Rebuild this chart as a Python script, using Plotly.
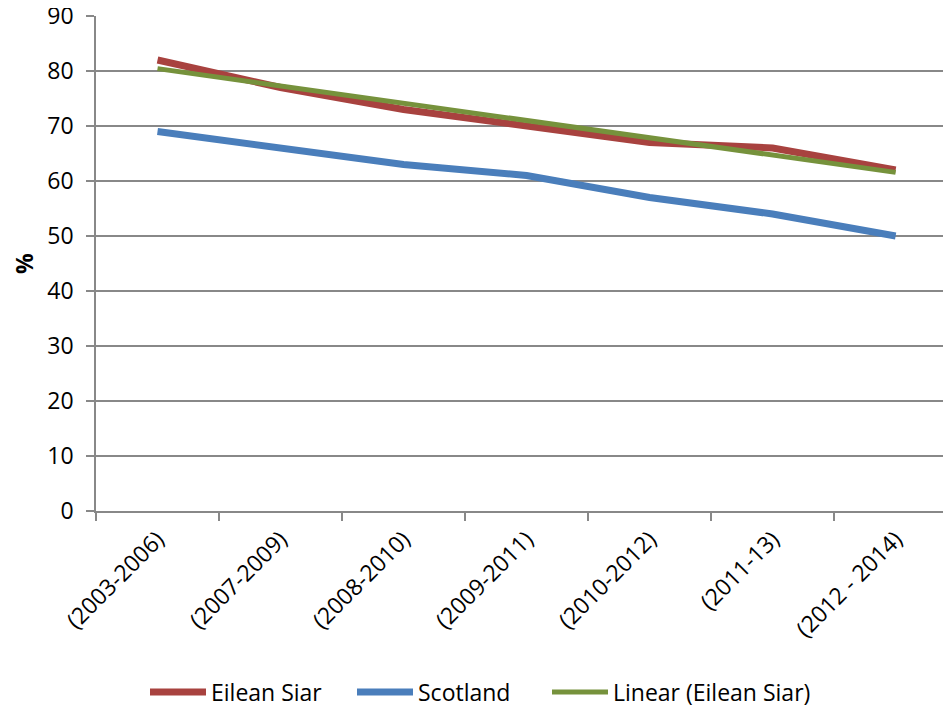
import numpy as np
import plotly.graph_objects as go

periods = ["(2003-2006)", "(2007-2009)", "(2008-2010)", "(2009-2011)",
           "(2010-2012)", "(2011-13)", "(2012 - 2014)"]
eilean_siar = [82, 77, 73, 70, 67, 66, 62]
scotland = [69, 66, 63, 61, 57, 54, 50]
series_names = ["Eilean Siar", "Scotland", "Linear (Eilean Siar)"]
series_colors = ["#A8423F", "#4A7EBB", "#76923C"]

# Linear trendline of Eilean Siar (least squares, as in the original chart)
xi = np.arange(len(eilean_siar))
slope, intercept = np.polyfit(xi, eilean_siar, 1)
trend = list(intercept + slope * xi)

FONT = "Open Sans"
FS = 23
OFF = 8                     # page body margin
W, H = 951 - OFF, 710 - OFF  # figure size
L, R, T, B = 96 - OFF, 951 - OFF, 16 - OFF, 511 - OFF  # plot area in figure px

fig = go.Figure()
fig.add_trace(go.Scatter(x=periods, y=eilean_siar, mode="lines", name=series_names[0],
                         line=dict(color=series_colors[0], width=7), showlegend=False))
fig.add_trace(go.Scatter(x=periods, y=scotland, mode="lines", name=series_names[1],
                         line=dict(color=series_colors[1], width=7), showlegend=False))
fig.add_trace(go.Scatter(x=periods, y=trend, mode="lines", name=series_names[2],
                         line=dict(color=series_colors[2], width=5), showlegend=False))

# manual legend (long line keys as in the original); page pixel -> paper coords
def px_x(p):
    return (p - OFF - L) / (R - L)
def px_y(p):
    return (B - (p - OFF)) / (B - T)

legend_starts = [150, 357, 552]
legend_widths = [7, 7, 5]
ly = px_y(692)
for start, name, col, w in zip(legend_starts, series_names, series_colors, legend_widths):
    fig.add_shape(type="line", xref="paper", yref="paper",
                  x0=px_x(start), x1=px_x(start + 56), y0=ly, y1=ly,
                  line=dict(color=col, width=w))
    fig.add_annotation(xref="paper", yref="paper", x=px_x(start + 59), y=ly,
                       text=name, showarrow=False, xanchor="left", yanchor="middle",
                       font=dict(size=FS, family=FONT, color="black"))

fig.update_layout(
    width=W, height=H,
    margin=dict(l=L, r=W - R, t=T, b=H - B),
    plot_bgcolor="white", paper_bgcolor="white",
    font=dict(family=FONT, size=FS, color="black"),
    showlegend=False,
)
fig.update_xaxes(
    type="category", range=[-0.5, 6.45], tickangle=-45, automargin=False,
    tickson="boundaries", ticks="outside", ticklen=8, tickcolor="#888888", tickwidth=1.5,
    showline=True, linecolor="#888888", linewidth=1.5, showgrid=False,
    tickfont=dict(size=FS), ticklabelstandoff=4, ticklabeloverflow="allow",
)
fig.update_yaxes(
    range=[0, 90], dtick=10, ticks="outside", ticklen=8, tickcolor="#888888", tickwidth=1.5,
    showline=True, linecolor="#888888", linewidth=1.5, automargin=False,
    showgrid=True, gridcolor="#888888", gridwidth=1.5, zeroline=False,
    tickfont=dict(size=FS), ticklabelstandoff=8, ticklabeloverflow="allow",
    title=dict(text="<b>%</b>", font=dict(size=FS), standoff=17),
)
fig.write_html("out.html")
